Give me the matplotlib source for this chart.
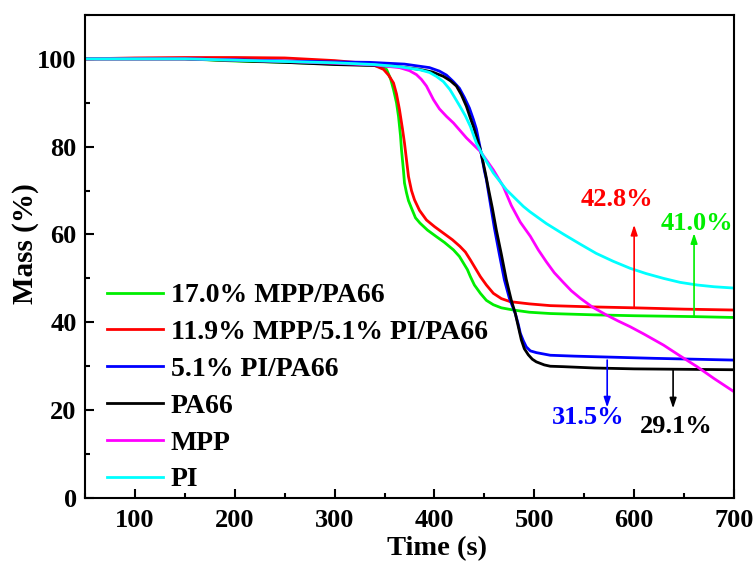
import matplotlib
matplotlib.use("Agg")
import matplotlib.pyplot as plt
from matplotlib.ticker import MultipleLocator

plt.rcParams['font.family'] = ['Liberation Serif', 'DejaVu Serif']
plt.rcParams['font.weight'] = 'bold'

# ---- data ----
green_x = [50, 150, 200, 250, 300, 335, 345, 352, 356, 359, 362, 364, 366, 367, 369, 370, 372, 374, 377, 381,
           385.5, 393, 402, 410, 419, 425, 429, 433, 436, 440, 446, 452, 459, 467, 479, 495, 516, 560, 600, 660, 700]
green_y = [100, 100, 99.5, 99.2, 98.8, 98.6, 98.3, 97.6, 95.5, 93, 90, 86.9, 82.5, 79.3, 74.5, 71.7, 69.5, 67.7, 66, 63.8,
           62.6, 61, 59.5, 58.2, 56.5, 55, 53.5, 52, 50.4, 48.5, 46.6, 45, 44, 43.3, 42.8, 42.3, 42, 41.7, 41.5, 41.3, 41.1]

red_x = [50, 100, 150, 200, 250, 300, 330, 340, 349, 354, 359, 362, 365, 368, 370, 372, 374, 377, 380, 385,
         392, 400, 409, 418, 425.5, 431, 436, 441, 446, 452, 459, 467, 476, 495, 516, 560, 600, 650, 700]
red_y = [100, 100.2, 100.3, 100.3, 100.2, 99.6, 99, 98.5, 97.6, 96.3, 94.5, 92, 88.4, 84, 80.8, 77, 73.2, 70, 67.9, 65.5,
         63.3, 61.8, 60.3, 58.8, 57.3, 56, 54.2, 52.3, 50.4, 48.5, 46.6, 45.4, 44.7, 44.2, 43.8, 43.5, 43.3, 43, 42.8]

blue_x = [50, 150, 200, 250, 300, 335, 370, 395, 405, 412, 419, 425, 430, 435, 439, 442, 446, 450, 452, 456, 460,
          465, 470, 475, 481, 484, 486, 489, 492, 496, 502, 516, 540, 572, 620, 660, 700]
blue_y = [100, 100, 99.8, 99.5, 99.3, 99.2, 98.8, 98, 97.2, 96.3, 94.8, 93.3, 91.2, 88.8, 86.2, 84, 79.5, 74.5, 72.5, 67, 61.5,
          55.5, 49.7, 45.5, 42, 39.5, 37.5, 35.8, 34.4, 33.5, 33.1, 32.5, 32.3, 32.1, 31.8, 31.6, 31.4]

black_x = [50, 150, 200, 250, 300, 335, 360, 385, 398, 409, 416, 422, 427, 432, 436, 439, 442, 446, 451, 454, 458,
           462, 467, 472, 477, 481, 484, 487, 490, 494, 498, 502, 510, 516, 529, 560, 600, 650, 700]
black_y = [100, 100, 99.6, 99.2, 98.7, 98.5, 98.3, 97.6, 97, 96, 95, 93.8, 91.8, 89.2, 86.5, 84.6, 82.3, 79.3, 74, 70.5, 66,
           61, 55.5, 49.7, 45, 42, 39, 36, 34, 32.6, 31.6, 31, 30.3, 30, 29.9, 29.6, 29.4, 29.3, 29.2]

mpp_x = [50, 150, 200, 250, 300, 340, 365, 375, 382, 387, 392, 399, 405, 412, 419, 432, 446, 459, 469, 477, 486,
         496, 504, 512, 520, 529, 537, 546, 558, 572, 584, 596, 610, 629.5, 645, 663, 680, 700]
mpp_y = [100, 100, 99.7, 99.4, 99, 98.6, 98, 97.3, 96.4, 95.3, 93.8, 90.7, 88.6, 86.9, 85.4, 82, 78.9, 74.7, 70.9, 66.6, 62.8,
         59.6, 56.5, 53.8, 51.3, 49.1, 47.2, 45.5, 43.5, 41.7, 40.3, 39, 37.3, 34.8, 32.5, 29.9, 27.2, 24.2]

pi_x = [50, 150, 200, 250, 300, 340, 365, 385.5, 395, 402, 409, 415.5, 420, 425.5, 431, 436, 442, 449, 459, 472,
        489, 495.5, 512, 529, 546, 562, 579, 596, 612, 629.5, 646, 663, 680, 700]
pi_y = [100, 100, 99.7, 99.4, 99.1, 98.7, 98.2, 97.5, 96.9, 96, 94.8, 93, 91.3, 89.2, 87, 84.6, 80.8, 77.8, 74, 70.2,
        66.4, 65.2, 62.5, 60.1, 57.8, 55.7, 53.9, 52.3, 51.1, 50, 49.1, 48.5, 48.1, 47.8]

labels = ['17.0% MPP/PA66', '11.9% MPP/5.1% PI/PA66', '5.1% PI/PA66', 'PA66', 'MPP', 'PI']
colors = ['#00EE00', '#FF0000', '#0000FF', '#000000', '#FF00FF', '#00FFFF']

# annotations: (text, arrow x, arrow start y, arrow tip y, text x, text y, color)
ann_text = ['42.8%', '41.0%', '31.5%', '29.1%']
ann_x = [600, 660, 573, 639]
ann_from = [43.4, 41.3, 31.4, 29.2]
ann_to = [62.2, 60.3, 20.6, 20.4]
ann_tx = [583, 662.5, 554, 642.5]
ann_ty = [67.9, 62.6, 18.4, 16.2]
ann_col = ['#FF0000', '#00EE00', '#0000FF', '#000000']

fig = plt.figure(figsize=(7.56, 5.63), dpi=100)
ax = fig.add_axes([0.1124, 0.1155, 0.8585, 0.858])

series = [(green_x, green_y), (red_x, red_y), (blue_x, blue_y), (black_x, black_y), (mpp_x, mpp_y), (pi_x, pi_y)]
order = [4, 5, 0, 1, 2, 3]
lines = {}
for i in order:
    xs, ys = series[i]
    ln, = ax.plot(xs, ys, color=colors[i], lw=2.0, label=labels[i], zorder=2 + i * 0.1)
    lines[i] = ln

for t, x, y0, y1, tx, ty, c in zip(ann_text, ann_x, ann_from, ann_to, ann_tx, ann_ty, ann_col):
    ax.annotate('', xy=(x, y1), xytext=(x, y0),
                arrowprops=dict(arrowstyle='-|>,head_length=0.6,head_width=0.2', color=c, lw=1.2,
                                shrinkA=0, shrinkB=0))
    ax.text(tx, ty, t, color=c, fontsize=19, fontweight='bold', ha='center', va='center')

ax.set_xlim(50, 700)
ax.set_ylim(0, 110)
ax.xaxis.set_major_locator(MultipleLocator(100))
ax.xaxis.set_minor_locator(MultipleLocator(50))
ax.yaxis.set_major_locator(MultipleLocator(20))
ax.yaxis.set_minor_locator(MultipleLocator(10))
ax.tick_params(which='both', direction='in', width=1.5, labelsize=19, top=False, right=False)
ax.tick_params(which='major', length=6.5)
ax.tick_params(axis='x', which='major', pad=8)
ax.tick_params(axis='y', which='major', pad=6)
ax.tick_params(which='minor', length=3.6)
for lab in ax.get_xticklabels() + ax.get_yticklabels():
    lab.set_fontweight('bold')
for s in ax.spines.values():
    s.set_linewidth(1.5)

ax.set_xlabel('Time (s)', fontsize=20.5, fontweight='bold')
ax.set_ylabel('Mass (%)', fontsize=21, fontweight='bold')
ax.xaxis.set_label_coords(0.542, -0.079)
ax.yaxis.set_label_coords(-0.071, 0.527)

handles = [lines[i] for i in range(6)]
leg = ax.legend(handles, labels, loc='lower left', bbox_to_anchor=(0.0255, 0.0), frameon=False,
                fontsize=20, handlelength=2.0, handletextpad=0.3, labelspacing=0.41,
                borderpad=0.0, borderaxespad=0.2)
for t in leg.get_texts():
    t.set_fontweight('bold')

fig.savefig('out.png', dpi=100)
